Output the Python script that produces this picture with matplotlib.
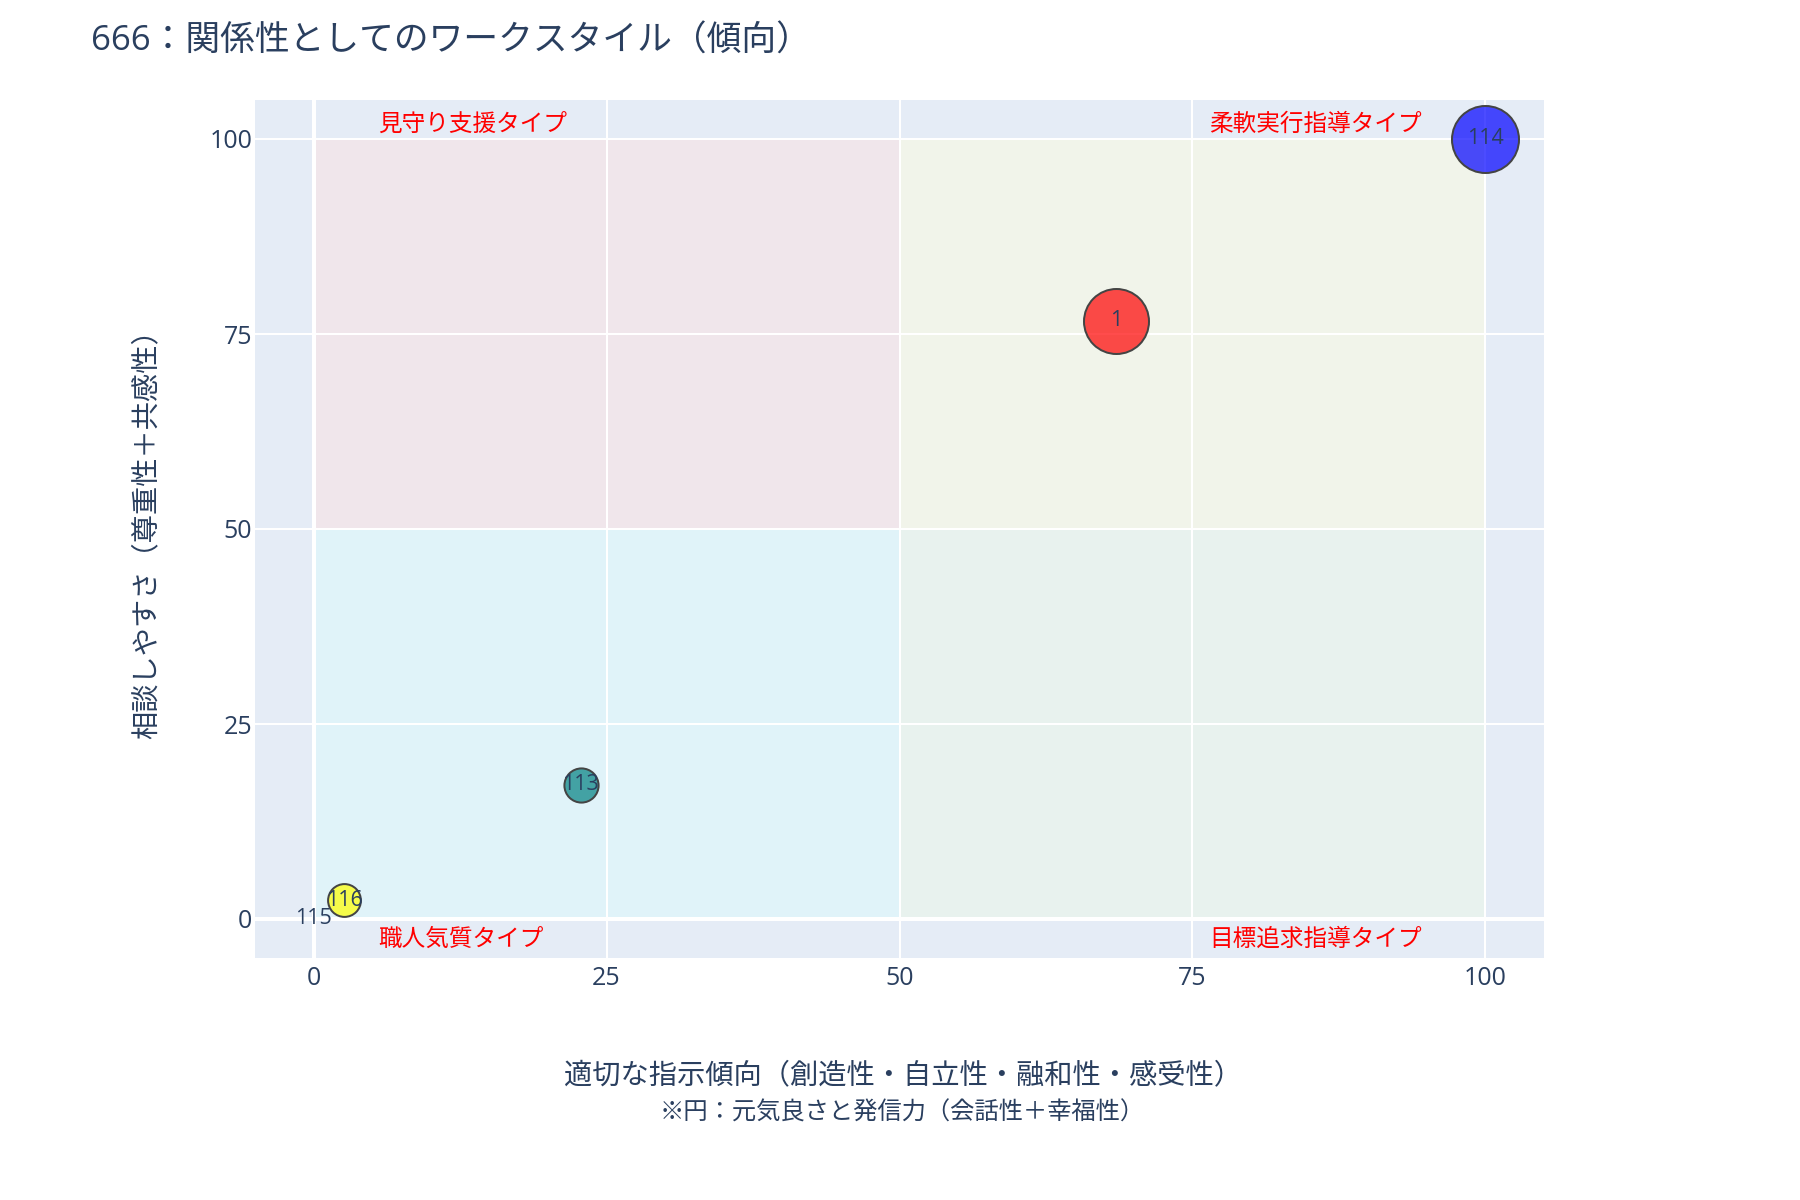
import matplotlib
matplotlib.use("Agg")
import matplotlib.pyplot as plt
from matplotlib.patches import Rectangle

plt.rcParams['font.family'] = ['Open Sans', 'Noto Sans CJK JP', 'DejaVu Sans']

# ---- data ----
ids = ["1", "113", "114", "115", "116"]
x_vals = [68.5, 22.8, 100.0, 0.0, 2.6]        # 適切な指示傾向
y_vals = [76.7, 17.2, 100.0, 0.0, 2.4]        # 相談しやすさ
energy = [97, 51, 100, 0, 49]                 # 元気良さと発信力 (bubble size)
colors = ["#ff0000", "#008080", "#0000ff", "#808080", "#ffff00"]

quad_names = ["見守り支援タイプ", "柔軟実行指導タイプ", "職人気質タイプ", "目標追求指導タイプ"]
ticks = [0, 25, 50, 75, 100]

title = "666：関係性としてのワークスタイル（傾向）"
xlabel = "適切な指示傾向（創造性・自立性・融和性・感受性）"
xsub = "※円：元気良さと発信力（会話性＋幸福性）"
ylabel = "相談しやすさ（尊重性＋共感性）"

# ---- figure ----
W, H = 1800, 1200
fig = plt.figure(figsize=(18, 12), dpi=100)
L, R, T, B = 255, 1544, 100, 958
ax = fig.add_axes([L / W, 1 - B / H, (R - L) / W, (B - T) / H])
ax.set_facecolor("#E5ECF6")
ax.set_xlim(-5, 105)
ax.set_ylim(-5, 105)
txtc = "#2a3f5f"

# quadrant backgrounds
quad_cols = {(0, 50): "#F0E6EB", (50, 50): "#F1F4EA", (0, 0): "#E0F3F9", (50, 0): "#E8F2EE"}
for (qx, qy), c in quad_cols.items():
    ax.add_patch(Rectangle((qx, qy), 50, 50, facecolor=c, edgecolor="none", zorder=0.1))

ax.set_axisbelow(True)
ax.set_xticks(ticks)
ax.set_yticks(ticks)
ax.grid(True, color="white", linewidth=1.44, zorder=0.5)
ax.axvline(0, color="white", linewidth=2.9, zorder=0.6)
ax.axhline(0, color="white", linewidth=2.9, zorder=0.6)
for s in ax.spines.values():
    s.set_visible(False)
ax.tick_params(axis="both", length=0, labelsize=18, labelcolor=txtc)
ax.tick_params(axis="x", pad=6)
ax.tick_params(axis="y", pad=2)

# bubbles: diameter in px = energy * 0.67 -> points
px_per_unit = 0.67
sizes = [(e * px_per_unit * 0.72) ** 2 for e in energy]
for xi, yi, s, c, lab in zip(x_vals, y_vals, sizes, colors, ids):
    if s > 0:
        ax.scatter([xi], [yi], s=s, facecolor=matplotlib.colors.to_rgba(c, 0.7),
                   edgecolor="#444444", linewidth=1.44, zorder=3)
    ax.text(xi, yi, lab, ha="center", va="center", fontsize=15.5, color=txtc, zorder=4)

# quadrant labels
ax.text(5.5, 101.8, quad_names[0], ha="left", va="center", fontsize=17, color="red", zorder=5)
ax.text(94.6, 101.8, quad_names[1], ha="right", va="center", fontsize=17, color="red", zorder=5)
ax.text(5.5, -2.65, quad_names[2], ha="left", va="center", fontsize=17, color="red", zorder=5)
ax.text(94.6, -2.65, quad_names[3], ha="right", va="center", fontsize=17, color="red", zorder=5)

# titles
fig.text(91 / W, 1 - 41.5 / H, title, ha="left", va="center", fontsize=25, color=txtc)
fig.text(903 / W, 1 - 1076.5 / H, xlabel, ha="center", va="center", fontsize=20.35, color=txtc)
fig.text(902 / W, 1 - 1113.5 / H, xsub, ha="center", va="center", fontsize=17.5, color=txtc)
fig.text(147 / W, 1 - 527 / H, ylabel, ha="center", va="center", rotation=90, fontsize=20.3, color=txtc)

fig.savefig("out.png", dpi=100, facecolor="white")
